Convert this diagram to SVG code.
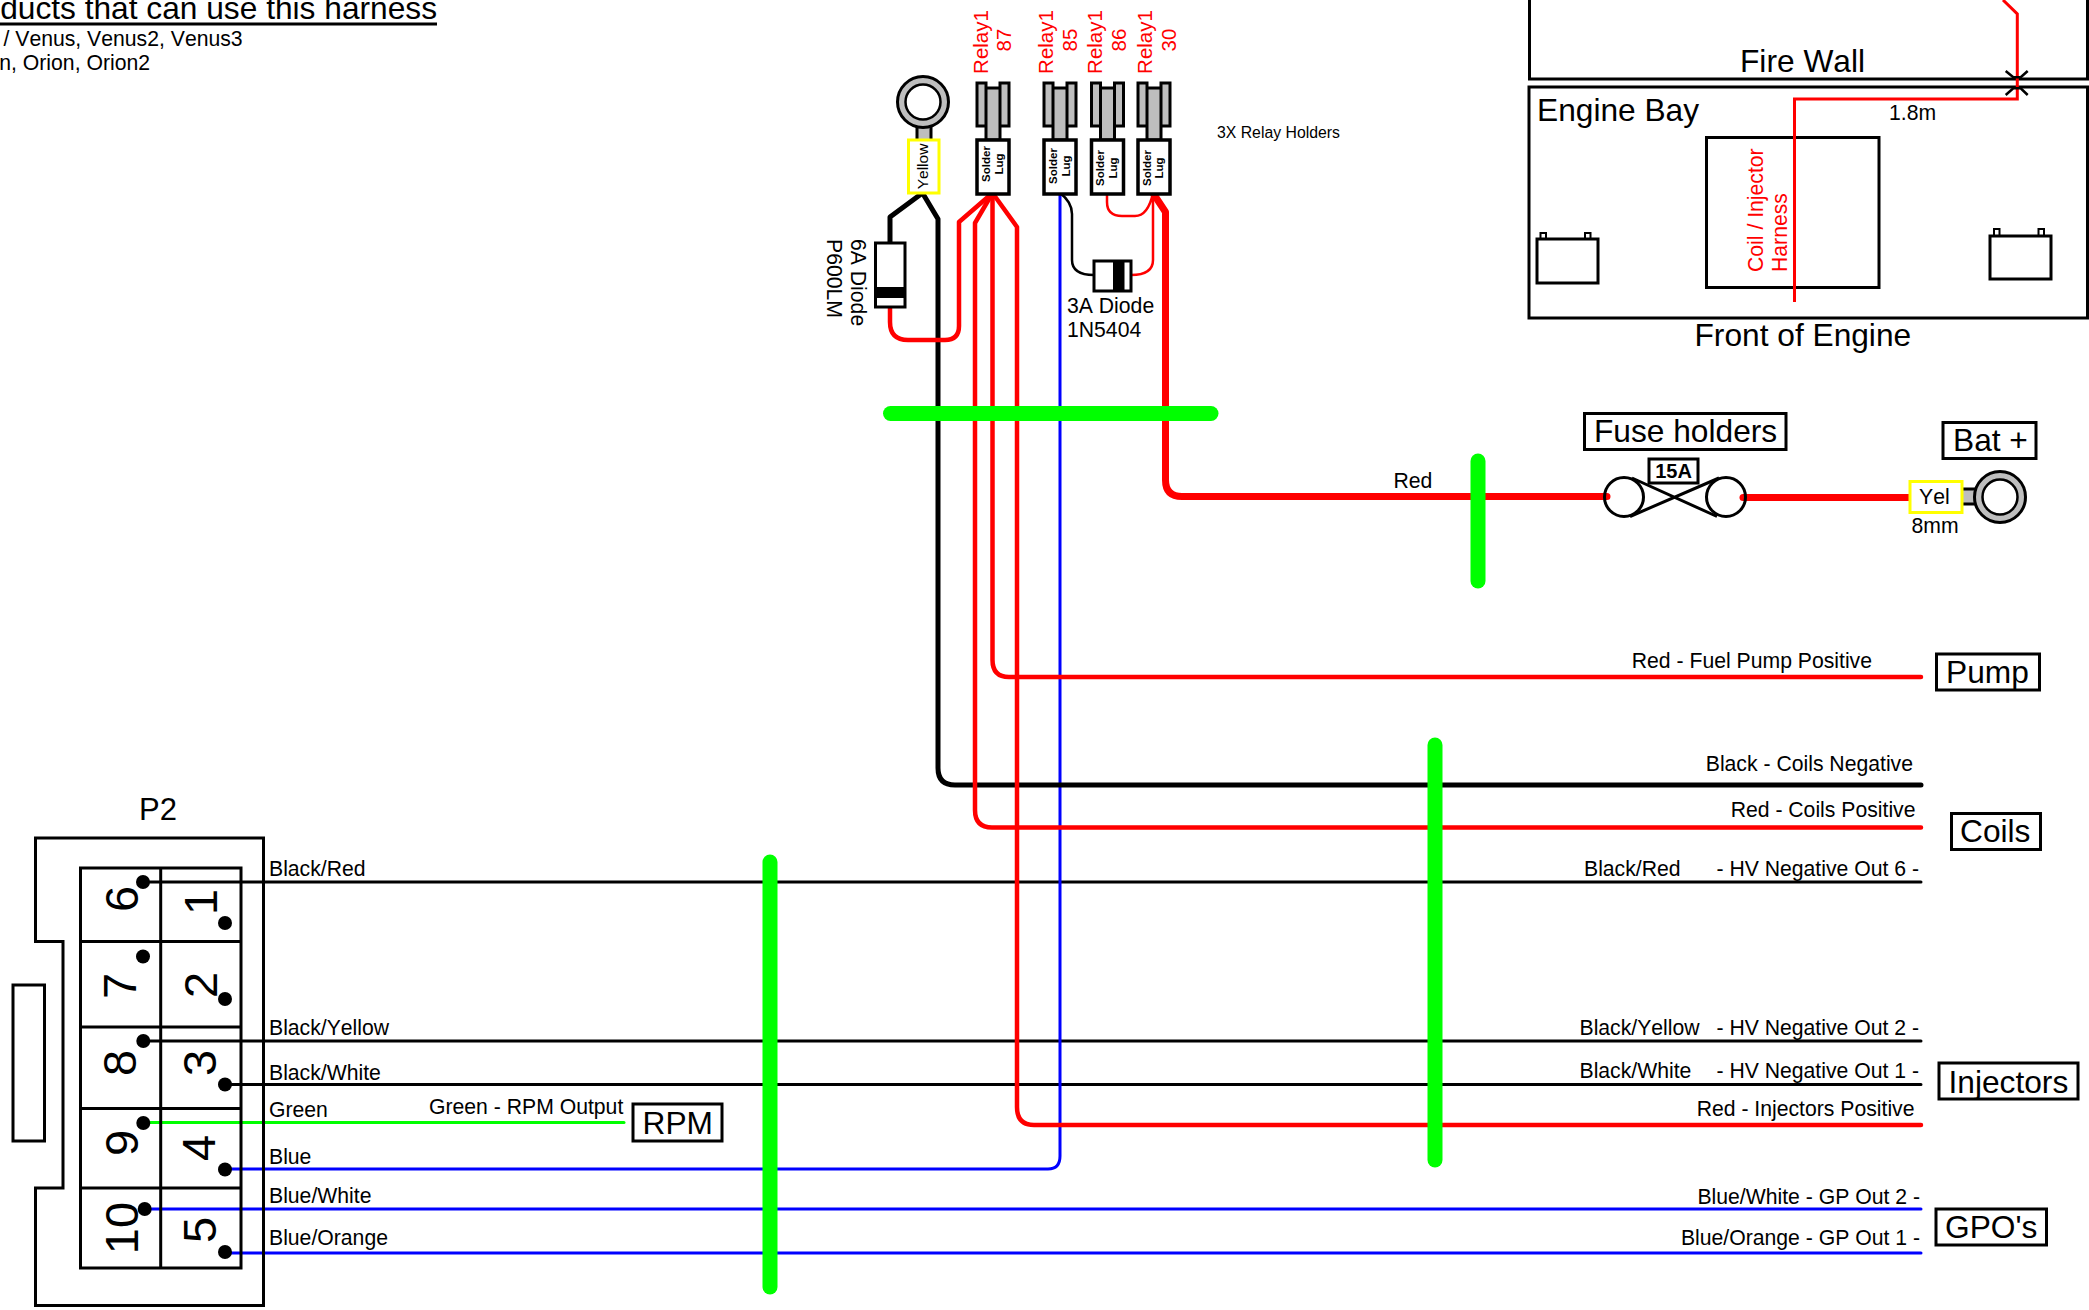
<svg xmlns="http://www.w3.org/2000/svg" width="2089" height="1310" viewBox="0 0 2089 1310">
<style>
text{font-family:"Liberation Sans",Arial,sans-serif;font-size:21.2px;fill:#000;font-kerning:none}
.b{font-size:31.7px}
.n{font-size:47px;text-anchor:middle}
.r{fill:#f00}
.s{font-size:11.5px;font-weight:bold;text-anchor:middle}
.rl{font-size:20.5px;fill:#f00;text-anchor:middle}
.e{text-anchor:end}
.box{fill:#fff;stroke:#000;stroke-width:3}
.frame{fill:none;stroke:#000;stroke-width:3}
.thin{fill:none;stroke:#000;stroke-width:2.5}
.w{fill:none;stroke-linecap:round;stroke-linejoin:round}
.gb{stroke:#0f0;stroke-width:15;stroke-linecap:round;fill:none}
.metal{fill:#bebebe;stroke:#000;stroke-width:3}
.lug{fill:#fff;stroke:#000;stroke-width:3.5}
.dot{fill:#000}
</style>
<defs>
<g id="lug">
<path class="metal" d="M0 -57H9V-14H0ZM23 -57H32V-14H23ZM9 -52H23V0H9Z"/>
<rect class="lug" x="0" y="0" width="32" height="54"/>
</g>
<g id="ring">
<circle r="25.500" class="metal"/><circle r="17.500" fill="#fff" stroke="#000" stroke-width="2.500"/>
</g>
</defs>

<g id="title">
<text class="b e" x="437" y="19">ducts that can use this harness</text>
<rect x="0" y="22.500" width="437" height="3"/>
<text x="3.500" y="45.500">/ Venus, Venus2, Venus3</text>
<text class="e" x="150" y="69.500">n, Orion, Orion2</text>
</g>

<g id="firewall">
<path class="frame" d="M1529.500 0V79H2087.500V0"/>
<text class="b" x="1740" y="72">Fire Wall</text>
</g>
<g id="engine-bay">
<rect class="frame" x="1529" y="87" width="558.500" height="231"/>
<rect class="frame" x="1706.500" y="137.500" width="172.500" height="150"/>
<text class="b" x="1537" y="121">Engine Bay</text>
<text x="1889" y="120">1.8m</text>
<text class="r" transform="translate(1762.500 272) rotate(-90)">Coil / Injector</text>
<text class="r" transform="translate(1786.500 272) rotate(-90)">Harness</text>
<text class="b" x="1694.500" y="346">Front of Engine</text>
<g id="battery-left"><rect class="frame" x="1537" y="239" width="61" height="44"/><rect class="frame" style="stroke-width:2" x="1540.500" y="233" width="5.500" height="6"/><rect class="frame" style="stroke-width:2" x="1585" y="233" width="5.500" height="6"/></g>
<g id="battery-right"><rect class="frame" x="1990" y="236" width="61" height="43"/><rect class="frame" style="stroke-width:2" x="1994" y="229" width="5.500" height="7"/><rect class="frame" style="stroke-width:2" x="2038.500" y="229" width="5.500" height="7"/></g>
</g>

<g id="connectors">
<path class="w" stroke="#f00" stroke-width="3" d="M2003 0L2017.300 14V99H1794.500V302" style="stroke-linejoin:miter;stroke-linecap:butt"/>
<path class="thin" d="M2005.700 71L2013.300 77.300H2020.700L2027.700 71M2005.700 95L2013.300 88.300H2020.700L2027.700 95"/>
<g class="w" stroke="#000">
<path stroke-width="3" d="M143 882H1921M143.300 1041H1921M225 1084.500H1921"/>
</g>
<path class="w" stroke="#0f0" stroke-width="3" d="M143.300 1122.500H624"/>
<g class="w" stroke="#00f" stroke-width="3">
<path d="M225 1169H1048Q1060 1169 1060 1156V193"/>
<path d="M145 1209H1921M225 1253H1921"/>
</g>
<path class="w" stroke="#000" stroke-width="5" d="M922.500 193L938 219V768Q938 785 955 785H1921"/>
<path class="w" stroke="#000" stroke-width="5" d="M922.500 193L890 217V243"/>
<path class="w" stroke="#f00" stroke-width="4.500" d="M890 305V322Q890 340 908 340H945Q959 340 959 326V222L992.500 193"/>
<path class="w" stroke="#f00" stroke-width="4.500" d="M992.500 193L975 223V810Q975 827.500 992 827.500H1921"/>
<path class="w" stroke="#f00" stroke-width="4.500" d="M992.500 193V660Q992.500 677 1009 677H1921"/>
<path class="w" stroke="#f00" stroke-width="4.500" d="M992.500 193L1017 227V1107Q1017 1125 1034 1125H1921"/>
<path class="w" stroke="#f00" stroke-width="7" d="M1153 193L1165.500 212V480Q1165.500 496.500 1182 496.500H1607"/>
<path class="w" stroke="#f00" stroke-width="7" d="M1743 497.500H1911"/>
<path class="w" stroke="#f00" stroke-width="2.500" d="M1107 193V202Q1107 216 1122 216H1135Q1148 216 1153 193V260Q1153 275 1131 275"/>
<path class="w" stroke="#000" stroke-width="2.500" d="M1060 193Q1072 202 1072 214V260Q1072 275 1094 275"/>
</g>

<g id="bars">
<path class="gb" d="M890.500 413.500H1211"/>
<path class="gb" d="M770 862V1287"/>
<path class="gb" d="M1435 745V1160"/>
<path class="gb" d="M1478 461V581"/>
</g>

<g id="p2">
<text style="font-size:31px" x="139" y="819.500">P2</text>
<path class="frame" d="M35.500 838H263.500V1305.500H35.500V1188H63V941.500H35.500Z"/>
<rect class="frame" x="13" y="985" width="31.500" height="156"/>
<path class="frame" d="M80.500 868H241V1268H80.500ZM160.700 868V1268M80.500 941.500H241M80.500 1027H241M80.500 1108.500H241M80.500 1188H241"/>
<g class="dot">
<circle cx="143" cy="882" r="7"/><circle cx="143" cy="956.500" r="7"/><circle cx="143.300" cy="1041" r="7"/><circle cx="143.300" cy="1123" r="7"/><circle cx="144.700" cy="1209" r="7"/>
<circle cx="225" cy="923" r="7"/><circle cx="225" cy="999" r="7"/><circle cx="225" cy="1084.500" r="7"/><circle cx="225" cy="1169.500" r="7"/><circle cx="225" cy="1252" r="7"/>
</g>
<text class="n" transform="translate(138.300 899) rotate(-90)">6</text>
<text class="n" transform="translate(136 986) rotate(-90)">7</text>
<text class="n" transform="translate(136 1063) rotate(-90)">8</text>
<text class="n" transform="translate(138.300 1143) rotate(-90)">9</text>
<text class="n" transform="translate(138.300 1228) rotate(-90)">10</text>
<text class="n" transform="translate(217.300 902) rotate(-90)">1</text>
<text class="n" transform="translate(216.700 985) rotate(-90)">2</text>
<text class="n" transform="translate(216 1063) rotate(-90)">3</text>
<text class="n" transform="translate(215 1148) rotate(-90)">4</text>
<text class="n" transform="translate(216 1230) rotate(-90)">5</text>
<text x="269" y="876">Black/Red</text>
<text x="269" y="1035">Black/Yellow</text>
<text x="269" y="1079.500">Black/White</text>
<text x="269" y="1117">Green</text>
<text x="269" y="1164">Blue</text>
<text x="269" y="1203">Blue/White</text>
<text x="269" y="1244.500">Blue/Orange</text>
</g>

<g id="relay-terminal-ring">
<rect class="metal" x="917" y="124" width="14" height="18"/>
<use href="#ring" x="923" y="102"/>
<rect x="908.500" y="140" width="30.500" height="53" fill="#fff" stroke="#ff0" stroke-width="3"/>
<text style="font-size:15.500px" text-anchor="middle" transform="translate(928 166.500) rotate(-90)">Yellow</text>
</g>

<g id="relay-87"><use href="#lug" x="977" y="140"/>
<text class="s" transform="translate(990 164) rotate(-90)">Solder</text><text class="s" transform="translate(1003 164) rotate(-90)">Lug</text>
<text class="rl" transform="translate(987.500 42) rotate(-90)">Relay1</text><text class="rl" transform="translate(1011 40) rotate(-90)">87</text></g>
<g id="relay-85"><use href="#lug" x="1044" y="140"/>
<text class="s" transform="translate(1057 166) rotate(-90)">Solder</text><text class="s" transform="translate(1070 166) rotate(-90)">Lug</text>
<text class="rl" transform="translate(1052.500 42) rotate(-90)">Relay1</text><text class="rl" transform="translate(1076.500 40) rotate(-90)">85</text></g>
<g id="relay-86"><use href="#lug" x="1091.500" y="140"/>
<text class="s" transform="translate(1104 168) rotate(-90)">Solder</text><text class="s" transform="translate(1116.500 168) rotate(-90)">Lug</text>
<text class="rl" transform="translate(1101.500 42) rotate(-90)">Relay1</text><text class="rl" transform="translate(1125.500 40) rotate(-90)">86</text></g>
<g id="relay-30"><use href="#lug" x="1138" y="140"/>
<text class="s" transform="translate(1150.500 168) rotate(-90)">Solder</text><text class="s" transform="translate(1163 168) rotate(-90)">Lug</text>
<text class="rl" transform="translate(1152 42) rotate(-90)">Relay1</text><text class="rl" transform="translate(1176 40) rotate(-90)">30</text></g>
<text style="font-size:15.800px" x="1217" y="138">3X Relay Holders</text>

<g id="diode-6a">
<rect class="box" x="875.500" y="243" width="29.500" height="64"/><rect x="875.500" y="287" width="29.500" height="11"/>
<text transform="translate(850.500 239) rotate(90)">6A Diode</text>
<text transform="translate(826.500 239) rotate(90)">P600LM</text>
</g>
<g id="diode-3a">
<rect class="box" x="1094" y="261" width="37" height="30"/><rect x="1113" y="261" width="11.500" height="30"/>
<text x="1067" y="313">3A Diode</text>
<text x="1067" y="337">1N5404</text>
</g>

<g id="fuse">
<circle cx="1624" cy="497" r="19.500" class="frame"/><circle cx="1726" cy="497" r="19.500" class="frame"/>
<path class="frame" d="M1632 478L1717 516.500M1630 516.500L1719 478"/>
<rect class="box" x="1649" y="459" width="49" height="24"/>
<text style="font-size:20px;font-weight:bold" text-anchor="middle" x="1673.500" y="477.500">15A</text>
</g>
<g id="fuse-holders"><rect class="box" x="1584.500" y="413.500" width="201.500" height="36"/><text class="b" x="1594" y="442">Fuse holders</text></g>
<g id="bat"><rect class="box" x="1943" y="422.500" width="93" height="36"/><text class="b" x="1953" y="451">Bat +</text></g>
<g id="bat-ring">
<rect class="metal" x="1960" y="489" width="22" height="15"/>
<use href="#ring" x="2000" y="497"/>
<rect x="1910" y="481.500" width="52" height="31" fill="#fff" stroke="#ff0" stroke-width="3"/>
<text x="1919" y="504">Yel</text>
<text x="1911.500" y="532.500">8mm</text>
</g>
<text x="1393.500" y="487.500">Red</text>

<g id="labels">
<text class="e" x="1872" y="667.500">Red - Fuel Pump Positive</text>
<text class="e" x="1913" y="771">Black - Coils Negative</text>
<text class="e" x="1915.500" y="817">Red - Coils Positive</text>
<text x="1584" y="875.500">Black/Red</text>
<text class="e" x="1919" y="875.500">- HV Negative Out 6 -</text>
<text x="1579.500" y="1034.500">Black/Yellow</text>
<text class="e" x="1919" y="1034.500">- HV Negative Out 2 -</text>
<text x="1579.500" y="1077.500">Black/White</text>
<text class="e" x="1919" y="1077.500">- HV Negative Out 1 -</text>
<text class="e" x="1914.500" y="1116">Red - Injectors Positive</text>
<text class="e" x="1920" y="1203.500">Blue/White - GP Out 2 -</text>
<text class="e" x="1920" y="1244.500">Blue/Orange - GP Out 1 -</text>
<text x="429" y="1114">Green - RPM Output</text>
</g>
<g id="pump"><rect class="box" x="1936.500" y="654" width="103" height="36"/><text class="b" x="1946" y="682.500">Pump</text></g>
<g id="coils"><rect class="box" x="1951.500" y="813.500" width="89" height="36"/><text class="b" x="1960" y="842">Coils</text></g>
<g id="injectors"><rect class="box" x="1939" y="1063" width="139" height="36"/><text class="b" x="1948.500" y="1092.500">Injectors</text></g>
<g id="gpos"><rect class="box" x="1936" y="1209" width="110.500" height="36"/><text class="b" x="1945" y="1238">GPO's</text></g>
<g id="rpm"><rect class="box" x="633" y="1104" width="89" height="37"/><text class="b" x="642.500" y="1134">RPM</text></g>
</svg>
